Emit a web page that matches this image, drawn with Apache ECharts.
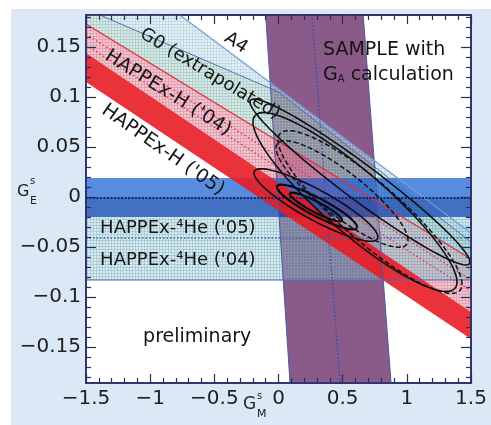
<!DOCTYPE html>
<html><head><meta charset="utf-8">
<script src="https://cdn.jsdelivr.net/npm/echarts@6/dist/echarts.min.js"></script>
<style>html,body{margin:0;padding:0;background:#fff}#c{width:491px;height:425px}</style>
</head><body><div id="c"></div>
<script>
// ---- axes ----
const xRange = [-1.5, 1.5];
const yRange = [-0.186, 0.182];
const yTicks = [-0.15, -0.1, -0.05, 0, 0.05, 0.1, 0.15];
const yMinorTicks = [-0.18,-0.17,-0.16,-0.14,-0.13,-0.12,-0.11,-0.09,-0.08,-0.07,-0.06,-0.04,-0.03,-0.02,-0.01,
  0.01,0.02,0.03,0.04,0.06,0.07,0.08,0.09,0.11,0.12,0.13,0.14,0.16,0.17,0.18];

// ---- bands (G_M^s, G_E^s) ----
const bandA4 = [[-1.391,0.182],[-0.768,0.182],[1.5,-0.036],[1.5,-0.045],[0.0,0.105]];
const bandG0 = [[-1.5,0.182],[-1.391,0.182],[0.0,0.105],[1.5,-0.045],[1.5,-0.062],[-1.5,0.173]];
const bandH04 = [[-1.5,0.173],[1.5,-0.062],[1.5,-0.115],[-1.5,0.144]];
const bandH05 = [[-1.5,0.144],[1.5,-0.115],[1.5,-0.142],[-1.5,0.115]];
const bandSample = [[-0.10,0.182],[0.66,0.182],[0.877,-0.186],[0.09,-0.186]];
const sampleCentre = [[0.26,0.182],[0.48,-0.186]];
const he05Upper = [0.019, 0.0];
const he05Lower = [0.0, -0.020];
const he05Centre = -0.001;
const he04 = [-0.020, -0.083];
const he04Centre = -0.041;
const h04Centre = [[-1.5,0.163],[1.5,-0.083]];
const h04Centre2 = [[-1.5,0.152],[1.5,-0.094]];
const a4Edge = [[-0.768,0.182],[1.5,-0.036]];
const g0Edge = [[-1.391,0.182],[0.0,0.105],[1.5,-0.045]];
const h04Edge = [[-1.5,0.173],[1.5,-0.062]];
// contours: centre x, centre y, half major axis (dx, dy), half vertical width
const solidContours = [
  [0.596, -0.005, 0.795, -0.080, 0.040],
  [0.635, 0.015, 0.857, -0.080, 0.022],
  [0.292, -0.008, 0.483, -0.032, 0.017]
];
const dashedContours = [
  [0.495, 0.003, 0.514, -0.046, 0.027],
  [0.713, -0.015, 0.717, -0.072, 0.038]
];
const coreContours = [
  [0.300, -0.010, 0.312, -0.020, 0.010],
  [0.292, -0.010, 0.203, -0.013, 0.006]
];

function hatch(bg, ln) {
  const c = document.createElement('canvas');
  c.width = 3; c.height = 3;
  const g = c.getContext('2d');
  g.fillStyle = bg; g.fillRect(0, 0, 3, 3);
  g.fillStyle = ln; g.fillRect(0, 0, 3, 1); g.fillRect(0, 0, 1, 3);
  return { image: c, repeat: 'repeat' };
}
function ellipse(e) {
  const pts = [];
  for (let k = 0; k <= 90; k++) {
    const t = k / 90 * 2 * Math.PI;
    pts.push([e[0] + Math.cos(t) * e[2], e[1] + Math.cos(t) * e[3] + Math.sin(t) * e[4]]);
  }
  return pts;
}
const FONT = '"DejaVu Sans", sans-serif';
const navy = '#262b62';

function renderItem(params, api) {
  const C = p => api.coord(p);
  const kids = [];
  const poly = (pts, style) => kids.push({ type: 'polygon', shape: { points: pts.map(C) }, style });
  const line = (pts, style) => kids.push({ type: 'polyline', shape: { points: pts.map(C) }, style: Object.assign({ fill: null }, style) });
  const rectY = (y0, y1, style) => poly([[xRange[0], y0], [xRange[1], y0], [xRange[1], y1], [xRange[0], y1]], style);
  const text = (x, y, str, opt) => {
    const p = C([x, y]);
    kids.push({ type: 'text', x: p[0], y: p[1], rotation: (opt.rot || 0) * Math.PI / 180,
      style: Object.assign({ text: str, fontFamily: FONT, fontSize: opt.size || 18, fill: '#151515',
        align: opt.align || 'center', verticalAlign: 'middle' }, opt.style || {}) });
  };

  poly(bandSample, { fill: '#8a5b89' });
  poly(bandA4, { fill: hatch('rgba(190,218,228,0.40)', 'rgba(170,205,220,0.50)') });
  poly(bandG0, { fill: hatch('rgba(160,202,192,0.40)', 'rgba(145,192,185,0.50)') });
  poly(bandH04, { fill: hatch('rgba(225,140,160,0.48)', 'rgba(218,134,158,0.52)') });
  rectY(he04[0], he04[1], { fill: hatch('rgba(130,186,196,0.32)', 'rgba(120,175,195,0.40)') });
  rectY(he05Upper[0], he05Upper[1], { fill: 'rgba(30,100,210,0.74)' });
  rectY(he05Lower[0], he05Lower[1], { fill: 'rgba(15,72,178,0.78)' });
  poly(bandH05, { fill: 'rgba(232,28,38,0.9)' });

  line([bandSample[0], bandSample[3]], { stroke: '#4a5aa6', lineWidth: 1 });
  line([bandSample[1], bandSample[2]], { stroke: '#4a5aa6', lineWidth: 1 });
  line(sampleCentre, { stroke: '#3a4fa8', lineWidth: 1.5, lineDash: [1.5, 2] });
  line(a4Edge, { stroke: '#6d9ed6', lineWidth: 1.2 });
  line(g0Edge, { stroke: '#4e6fb8', lineWidth: 1 });
  line(h04Edge, { stroke: '#e0303a', lineWidth: 1.2 });
  line(h04Centre, { stroke: '#e0303a', lineWidth: 1.3, lineDash: [1.5, 2.5] });
  line(h04Centre2, { stroke: '#d03048', lineWidth: 1.2, lineDash: [1.5, 2.5] });
  line([[xRange[0], he04Centre], [xRange[1], he04Centre]], { stroke: '#3a5fb8', lineWidth: 1.5, lineDash: [1.5, 2] });
  line([[xRange[0], he04[1]], [xRange[1], he04[1]]], { stroke: '#4a6ab0', lineWidth: 1.2 });
  line([[xRange[0], he05Centre], [xRange[1], he05Centre]], { stroke: '#14286e', lineWidth: 2.2, lineDash: [2, 1.5] });

  solidContours.forEach(e => line(ellipse(e), { stroke: '#111', lineWidth: 1.6 }));
  dashedContours.forEach(e => line(ellipse(e), { stroke: '#111', lineWidth: 1.5, lineDash: [5, 2.5] }));
  coreContours.forEach(e => line(ellipse(e), { stroke: '#0a0a0a', lineWidth: 2.2 }));

  text(-0.534, 0.123, 'G0 (extrapolated)', { rot: -31, size: 18 });
  text(-0.331, 0.154, 'A4', { rot: -33, size: 18 });
  text(-0.861, 0.104, "HAPPEx-H ('04)", { rot: -32, size: 19 });
  text(-0.900, 0.047, "HAPPEx-H ('05)", { rot: -35, size: 19 });
  text(-1.39, -0.031, "HAPPEx-\u2074He ('05)", { align: 'left', size: 18 });
  text(-1.39, -0.063, "HAPPEx-\u2074He ('04)", { align: 'left', size: 18 });
  text(-1.055, -0.140, 'preliminary', { align: 'left', size: 19 });
  text(0.347, 0.147, 'SAMPLE with', { align: 'left', size: 19 });
  text(0.347, 0.122, '{g|G}{a|A}{g| calculation}', { align: 'left', size: 19,
    style: { rich: { g: { fontSize: 19, fontFamily: FONT, fill: '#151515', verticalAlign: 'bottom' },
                     a: { fontSize: 10, fontFamily: FONT, fill: '#151515', verticalAlign: 'bottom' } } } });

  return { type: 'group', children: kids };
}

const fmt = v => (v === 0 ? '0' : (v < 0 ? '\u2212' : '') + String(Math.abs(v)));
const tickStyle = { color: navy, width: 1.2 };
const xBase = { type: 'value', min: xRange[0], max: xRange[1], interval: 0.5, z: 5,
  axisLine: { show: true, onZero: false, lineStyle: { color: navy, width: 1.5 } },
  axisTick: { inside: true, length: 9, lineStyle: tickStyle },
  minorTick: { show: true, splitNumber: 5, length: 5, lineStyle: tickStyle },
  splitLine: { show: false }, minorSplitLine: { show: false } };
const yBase = { type: 'value', min: yRange[0], max: yRange[1], z: 5,
  splitLine: { show: false }, minorTick: { show: false } };

const option = {
  backgroundColor: '#dbe8f5',
  animation: false,
  grid: { left: 86, right: 20, top: 15, bottom: 42, show: true, backgroundColor: '#ffffff',
    borderColor: navy, borderWidth: 1.5 },
  xAxis: [
    Object.assign({}, xBase, { position: 'bottom',
      axisLabel: { fontSize: 20, fontFamily: FONT, color: '#222', margin: 6, formatter: fmt } }),
    Object.assign({}, xBase, { position: 'top', axisLabel: { show: false } })
  ],
  yAxis: [
    Object.assign({}, yBase, { position: 'left',
      axisLine: { show: true, onZero: false, lineStyle: { color: navy, width: 1.5 } },
      axisTick: { inside: true, length: 10, customValues: yTicks, lineStyle: tickStyle },
      axisLabel: { customValues: yTicks, fontSize: 20, fontFamily: FONT, color: '#222', margin: 5, formatter: fmt } }),
    Object.assign({}, yBase, { position: 'right',
      axisLine: { show: true, onZero: false, lineStyle: { color: navy, width: 1.5 } },
      axisTick: { inside: true, length: 10, customValues: yTicks, lineStyle: tickStyle },
      axisLabel: { show: false } }),
    Object.assign({}, yBase, { position: 'left', axisLine: { show: false, onZero: false },
      axisTick: { inside: true, length: 5, customValues: yMinorTicks, lineStyle: tickStyle },
      axisLabel: { show: false } }),
    Object.assign({}, yBase, { position: 'right', axisLine: { show: false, onZero: false },
      axisTick: { inside: true, length: 5, customValues: yMinorTicks, lineStyle: tickStyle },
      axisLabel: { show: false } })
  ],
  graphic: [
    { type: 'rect', shape: { x: 0, y: 0, width: 491, height: 9 }, style: { fill: '#ffffff' } },
    { type: 'rect', shape: { x: 0, y: 0, width: 11, height: 425 }, style: { fill: '#ffffff' } },
    { type: 'text', x: 17, y: 192, style: { text: 'G', fontSize: 16, fontFamily: FONT, fill: '#222', verticalAlign: 'middle' } },
    { type: 'text', x: 30, y: 181, style: { text: 's', fontSize: 10, fontFamily: FONT, fill: '#222', verticalAlign: 'middle' } },
    { type: 'text', x: 30, y: 201, style: { text: 'E', fontSize: 11, fontFamily: FONT, fill: '#222', verticalAlign: 'middle' } },
    { type: 'text', x: 243, y: 405, style: { text: 'G', fontSize: 17, fontFamily: FONT, fill: '#222', verticalAlign: 'middle' } },
    { type: 'text', x: 257, y: 396, style: { text: 's', fontSize: 10, fontFamily: FONT, fill: '#222', verticalAlign: 'middle' } },
    { type: 'text', x: 257, y: 414, style: { text: 'M', fontSize: 11, fontFamily: FONT, fill: '#222', verticalAlign: 'middle' } }
  ],
  series: [{
    type: 'custom', coordinateSystem: 'cartesian2d', xAxisIndex: 0, yAxisIndex: 0,
    clip: true, silent: true, data: [[0, 0]], renderItem
  }]
};
const chart = echarts.init(document.getElementById('c'), null, { renderer: 'canvas' });
chart.setOption(option);
</script></body></html>
